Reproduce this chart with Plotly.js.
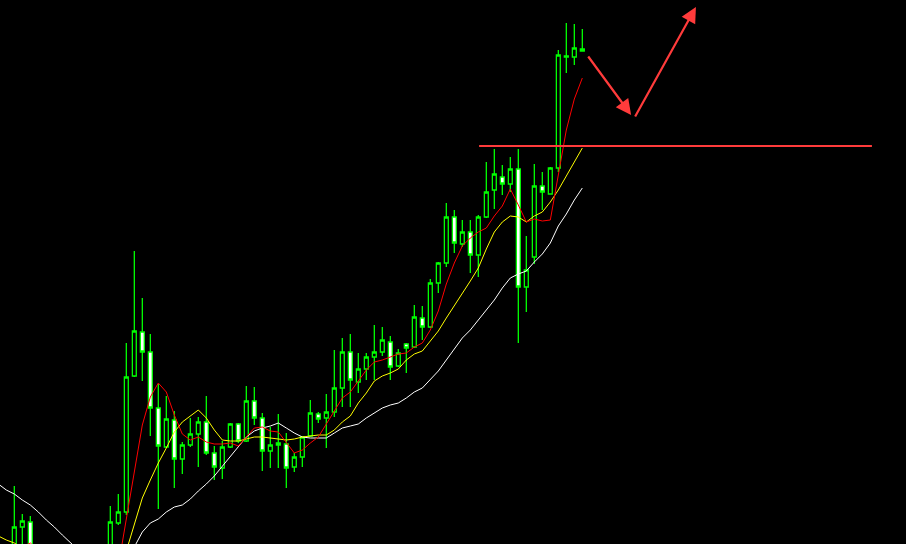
<!DOCTYPE html>
<html>
<head>
<meta charset="utf-8">
<script src="https://cdn.plot.ly/plotly-3.0.1.min.js"></script>
<style>html,body{margin:0;padding:0;background:#000;}#chart{width:906px;height:544px;}</style>
</head>
<body>
<div id="chart"></div>
<script>
// bar index (one per session)
const idx = [];
for (let i = -2; i <= 71; i++) idx.push(i);

const openP  = [4.45,4.42,4.40,4.73,4.78,4.40,4.25,4.15,4.18,4.10,4.02,4.08,4.16,4.26,4.35,4.77,4.88,6.24,6.68,6.48,5.92,5.53,5.80,5.41,5.55,5.66,5.78,5.47,5.32,5.53,5.76,5.59,5.99,5.82,5.49,5.55,5.56,5.33,5.43,5.64,5.86,5.82,5.88,6.12,6.48,6.18,6.31,6.43,6.48,6.58,6.34,6.56,6.53,6.82,6.73,7.17,7.37,7.83,7.56,7.68,7.45,7.83,8.10,8.23,8.16,8.31,7.13,7.43,8.14,8.06,8.32,9.43,9.43,9.51];
const highP  = [4.52,4.50,5.14,4.86,4.84,4.45,4.30,4.22,4.25,4.14,4.12,4.20,4.30,4.40,4.94,5.06,6.57,7.49,7.02,6.66,6.16,6.04,5.89,5.58,5.82,5.83,6.04,5.54,5.59,5.77,5.77,6.14,6.13,5.87,5.73,5.86,5.67,5.47,5.64,6.00,5.88,6.06,6.50,6.62,6.66,6.47,6.47,6.75,6.73,6.64,6.51,6.57,6.95,6.94,7.21,7.38,7.97,7.90,7.80,7.80,7.85,8.38,8.51,8.35,8.43,8.51,7.64,8.36,8.28,8.33,9.50,9.77,9.76,9.71];
const lowP   = [4.38,4.32,4.35,4.50,4.35,4.20,4.10,4.05,4.08,3.98,3.98,4.04,4.12,4.22,4.30,4.75,4.85,6.23,6.19,5.64,4.91,5.52,5.12,5.26,5.53,5.33,5.45,5.20,5.21,5.52,5.57,5.58,5.75,5.29,5.32,5.32,5.12,5.28,5.33,5.63,5.77,5.52,5.83,5.93,5.93,6.07,6.20,6.20,6.44,6.20,6.33,6.27,6.52,6.60,6.72,7.07,7.33,7.47,7.53,7.27,7.23,7.82,7.91,8.05,8.08,6.57,6.88,7.36,7.90,8.06,8.28,9.27,9.35,9.49];
const closeP = [4.42,4.40,4.73,4.79,4.40,4.25,4.15,4.18,4.10,4.02,4.08,4.16,4.26,4.35,4.78,4.88,6.23,6.69,6.48,5.92,5.54,5.81,5.41,5.55,5.66,5.78,5.47,5.33,5.53,5.76,5.59,5.99,5.82,5.49,5.55,5.57,5.32,5.43,5.63,5.87,5.81,5.88,6.12,6.48,6.20,6.31,6.43,6.48,6.60,6.33,6.47,6.52,6.83,6.73,7.17,7.37,7.83,7.57,7.68,7.45,7.83,8.08,8.26,8.16,8.31,7.13,7.30,8.14,8.08,8.32,9.45,9.44,9.52,9.49];

// moving averages
const maFast = [4.45,4.46,4.48,4.53,4.57,4.50,4.42,4.35,4.30,4.26,4.24,4.23,4.22,4.22,4.20,4.34,4.82,5.30,5.75,6.03,6.17,6.08,5.85,5.66,5.60,5.63,5.58,5.56,5.56,5.57,5.54,5.63,5.72,5.73,5.69,5.68,5.57,5.47,5.50,5.57,5.63,5.76,5.88,6.02,6.08,6.19,6.30,6.38,6.40,6.43,6.46,6.47,6.53,6.57,6.70,6.89,7.16,7.37,7.54,7.62,7.68,7.72,7.84,7.94,8.11,7.95,7.78,7.81,7.79,7.80,8.27,8.70,9.01,9.22];
const maMid  = [4.64,4.60,4.57,4.52,4.47,4.42,4.38,4.34,4.31,4.29,4.27,4.26,4.26,4.27,4.30,4.36,4.49,4.76,5.02,5.20,5.37,5.52,5.68,5.78,5.84,5.90,5.82,5.70,5.60,5.59,5.59,5.61,5.63,5.63,5.62,5.61,5.60,5.61,5.63,5.64,5.65,5.65,5.70,5.78,5.84,5.97,6.07,6.19,6.24,6.27,6.31,6.40,6.46,6.49,6.59,6.69,6.82,6.94,7.06,7.19,7.32,7.51,7.68,7.78,7.84,7.83,7.78,7.84,7.88,7.98,8.10,8.24,8.38,8.52];
const maSlow = [5.16,5.10,5.06,5.00,4.95,4.88,4.80,4.73,4.65,4.57,4.50,4.44,4.39,4.36,4.35,4.37,4.43,4.53,4.68,4.77,4.81,4.88,4.93,4.95,5.01,5.09,5.16,5.24,5.34,5.43,5.53,5.63,5.69,5.72,5.74,5.77,5.72,5.67,5.63,5.62,5.62,5.62,5.67,5.72,5.74,5.76,5.82,5.87,5.92,5.95,5.97,6.02,6.08,6.12,6.20,6.29,6.40,6.51,6.62,6.70,6.80,6.90,7.00,7.12,7.22,7.26,7.29,7.38,7.46,7.57,7.74,7.86,8.00,8.12];

// drawn annotations: resistance level and projected path
const resistanceLevel = 8.54;
const resistanceSpan = [58.1, 107.2];
const arrowDownTail = [71.6, 9.45], arrowDownHead = [77.1, 8.85];
const arrowUpTail = [77.5, 8.82], arrowUpHead = [85.2, 9.93];

const GREEN = '#00ff00', RED_MARK = '#ff3b3b';

const traces = [
  {type:'scatter', mode:'lines', x:idx, y:maSlow, line:{color:'#ffffff', width:1}, hoverinfo:'skip'},
  {type:'scatter', mode:'lines', x:idx, y:maMid, line:{color:'#ffff00', width:1}, hoverinfo:'skip'},
  {type:'scatter', mode:'lines', x:idx, y:maFast, line:{color:'#ff0000', width:1}, hoverinfo:'skip'},
  {type:'candlestick', x:idx, open:openP, high:highP, low:lowP, close:closeP,
   whiskerwidth:0,
   increasing:{line:{color:GREEN, width:1.3}, fillcolor:'#000000'},
   decreasing:{line:{color:GREEN, width:1.3}, fillcolor:'#ffffff'},
   hoverinfo:'skip'}
];

const mkArrow = (tail, head) => ({
  x: head[0], y: head[1], ax: tail[0], ay: tail[1], axref:'x', ayref:'y', xref:'x', yref:'y',
  text:'', showarrow:true, arrowhead:2, arrowsize:1.4, arrowwidth:2.2, arrowcolor:RED_MARK, standoff:0, startstandoff:0
});

const layout = {
  width:906, height:544,
  margin:{l:0, r:0, t:0, b:0},
  paper_bgcolor:'#000000', plot_bgcolor:'#000000',
  showlegend:false,
  boxgap:0.3,
  xaxis:{range:[-1.79, 111.46], visible:false, rangeslider:{visible:false}, fixedrange:true},
  yaxis:{range:[4.56, 10.0], visible:false, fixedrange:true},
  shapes:[{type:'line', xref:'x', yref:'y', x0:resistanceSpan[0], x1:resistanceSpan[1], y0:resistanceLevel, y1:resistanceLevel, line:{color:RED_MARK, width:2}}],
  annotations:[mkArrow(arrowDownTail, arrowDownHead), mkArrow(arrowUpTail, arrowUpHead)]
};

Plotly.newPlot('chart', traces, layout, {staticPlot:true, displayModeBar:false});
</script>
</body>
</html>
